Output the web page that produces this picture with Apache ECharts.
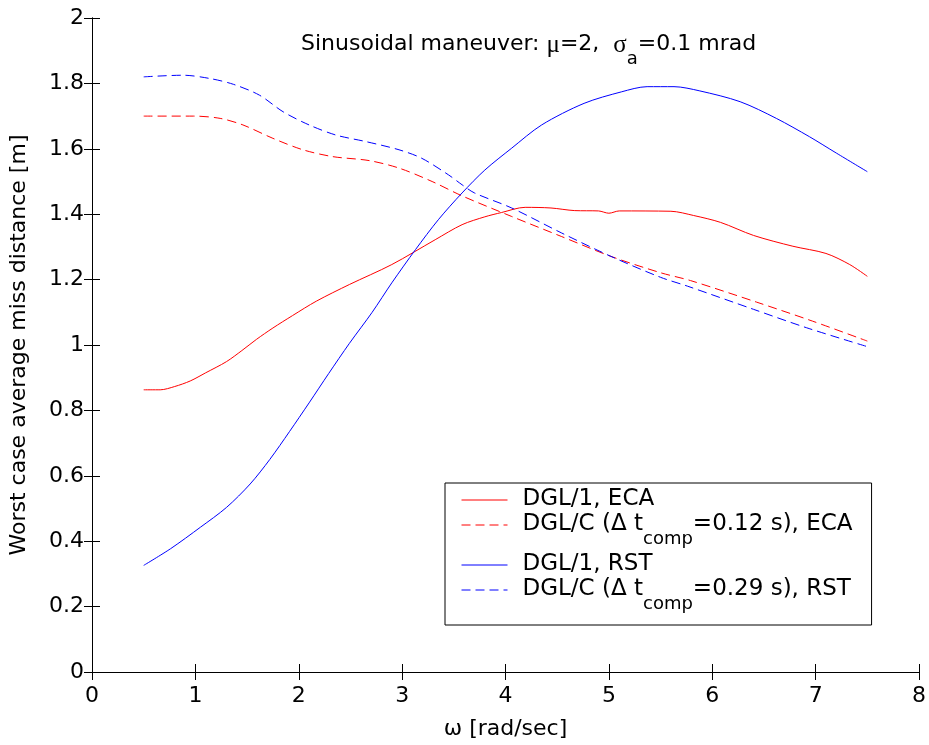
<!DOCTYPE html>
<html>
<head>
<meta charset="utf-8">
<script src="https://cdn.jsdelivr.net/npm/echarts@6/dist/echarts.min.js"></script>
<style>
html,body{margin:0;padding:0;background:#fff;}
#chart{width:929px;height:745px;}
</style>
</head>
<body>
<div id="chart"></div>
<script>
// ---- data ----
const xTicks = [0, 1, 2, 3, 4, 5, 6, 7, 8];
const yTicks = [0, 0.2, 0.4, 0.6, 0.8, 1, 1.2, 1.4, 1.6, 1.8, 2];

const ecaDgl1X = [0.5, 0.66, 0.8, 0.95, 1.1, 1.3, 1.45, 1.59, 1.75, 1.94, 2.17, 2.49, 2.9, 3.32, 3.58, 3.8, 3.96, 4.19, 4.44, 4.67, 4.9, 5.0, 5.1, 5.6, 5.82, 6.08, 6.4, 6.78, 7.1, 7.33, 7.5];
const ecaDgl1Y = [0.863, 0.863, 0.873, 0.89, 0.915, 0.949, 0.983, 1.017, 1.052, 1.09, 1.134, 1.185, 1.246, 1.322, 1.368, 1.392, 1.405, 1.421, 1.419, 1.411, 1.41, 1.403, 1.41, 1.409, 1.396, 1.375, 1.335, 1.302, 1.28, 1.246, 1.21];

const ecaDglcX = [0.5, 0.98, 1.24, 1.46, 1.75, 2.04, 2.33, 2.68, 2.97, 3.29, 3.58, 4.06, 4.54, 5.02, 5.5, 5.79, 6.43, 6.97, 7.5];
const ecaDglcY = [1.70, 1.70, 1.693, 1.673, 1.632, 1.597, 1.576, 1.564, 1.541, 1.50, 1.456, 1.393, 1.332, 1.271, 1.221, 1.197, 1.131, 1.073, 1.012];

const rstDgl1X = [0.5, 0.76, 1.05, 1.3, 1.53, 1.72, 1.91, 2.1, 2.29, 2.49, 2.71, 2.9, 3.13, 3.35, 3.58, 3.8, 4.06, 4.35, 4.76, 5.12, 5.37, 5.63, 5.88, 6.27, 6.62, 6.94, 7.2, 7.5];
const rstDgl1Y = [0.326, 0.377, 0.443, 0.503, 0.575, 0.650, 0.735, 0.823, 0.913, 1.005, 1.100, 1.19, 1.292, 1.383, 1.465, 1.535, 1.602, 1.673, 1.739, 1.774, 1.79, 1.79, 1.777, 1.744, 1.693, 1.637, 1.587, 1.53];

const rstDglcX = [0.5, 0.88, 1.14, 1.37, 1.62, 1.85, 2.1, 2.36, 2.65, 2.97, 3.19, 3.45, 3.58, 3.7, 4.06, 4.54, 5.02, 5.5, 5.76, 6.4, 6.91, 7.5];
const rstDglcY = [1.82, 1.825, 1.815, 1.797, 1.764, 1.713, 1.673, 1.642, 1.622, 1.597, 1.571, 1.52, 1.49, 1.465, 1.419, 1.343, 1.271, 1.207, 1.18, 1.109, 1.053, 0.995];

const seriesNames = [
  'DGL/1, ECA',
  'DGL/C (Δ t_comp=0.12 s), ECA',
  'DGL/1, RST',
  'DGL/C (Δ t_comp=0.29 s), RST'
];
const titleText = 'Sinusoidal maneuver: ';
const xName = 'ω [rad/sec]';
const yName = 'Worst case average miss distance [m]';

// ---- build ----
function pairs(xs, ys) { return xs.map((x, i) => [x, ys[i]]); }
const FONT = 'DejaVu Sans';
const DASH = [9, 5];

function mkSeries(name, xs, ys, color, dashed) {
  return {
    name: name,
    type: 'line',
    data: pairs(xs, ys),
    showSymbol: false,
    symbol: 'none',
    smooth: 0.3,
    lineStyle: { color: color, width: 1, type: dashed ? DASH : 'solid' },
    itemStyle: { color: color },
    emphasis: { disabled: true },
    silent: true
  };
}

const axisCommon = {
  type: 'value',
  axisLine: { show: true, lineStyle: { color: '#000', width: 1 } },
  axisTick: { show: true, inside: true, length: 8, lineStyle: { color: '#000', width: 1 } },
  splitLine: { show: false }
};

const chart = echarts.init(document.getElementById('chart'), null, { renderer: 'canvas' });
chart.setOption({
  animation: false,
  backgroundColor: '#fff',
  title: {
    text: '{t|' + titleText + '}{g|μ}{t|=2,  }{g|σ}{s|a}{t|=0.1 mrad}',
    left: 301,
    top: 33,
    padding: 0,
    textStyle: {
      fontFamily: FONT,
      fontWeight: 'normal',
      color: '#000',
      rich: {
        t: { fontFamily: FONT, fontSize: 22, lineHeight: 26, verticalAlign: 'top', color: '#000' },
        g: { fontFamily: 'Liberation Serif', fontSize: 25, lineHeight: 26, verticalAlign: 'top', color: '#000' },
        s: { fontFamily: FONT, fontSize: 18, lineHeight: 18, padding: [17, 0, 0, 0], verticalAlign: 'top', color: '#000' }
      }
    }
  },
  grid: { left: 88, right: 9, top: 18, bottom: 71, containLabel: false },
  legend: {
    orient: 'vertical',
    left: 445,
    top: 483,
    padding: [5, 19, 9, 16],
    itemGap: 2,
    itemWidth: 46,
    itemHeight: 13,
    backgroundColor: '#fff',
    borderColor: '#000',
    borderWidth: 1,
    borderRadius: 0,
    selectedMode: false,
    itemStyle: { opacity: 0 },
    lineStyle: { width: 1 },
    data: seriesNames,
    formatter: function (name) {
      const parts = name.split('_comp');
      if (parts.length === 2) {
        return '{sp| }{m|' + parts[0] + '}{s|comp}{m|' + parts[1] + '}';
      }
      return '{sp| }{m|' + name + '}';
    },
    textStyle: {
      fontFamily: FONT,
      fontSize: 23,
      color: '#000',
      rich: {
        sp: { width: 10, fontSize: 23, lineHeight: 24, verticalAlign: 'top' },
        m: { fontFamily: FONT, fontSize: 23, lineHeight: 24, verticalAlign: 'top', color: '#000' },
        s: { fontFamily: FONT, fontSize: 18, lineHeight: 18, padding: [17, 0, 3, 0], verticalAlign: 'top', color: '#000' }
      }
    }
  },
  xAxis: [
    Object.assign({}, axisCommon, {
      position: 'bottom',
      min: xTicks[0], max: xTicks[xTicks.length - 1], interval: 1,
      name: xName,
      nameLocation: 'middle',
      nameGap: 46,
      nameTextStyle: { fontFamily: FONT, fontSize: 22, color: '#000' },
      axisLabel: { show: true, fontFamily: FONT, fontSize: 22, color: '#000', margin: 13 }
    }),
    Object.assign({}, axisCommon, {
      position: 'top',
      min: xTicks[0], max: xTicks[xTicks.length - 1], interval: 1,
      axisLabel: { show: false }
    })
  ],
  yAxis: [
    Object.assign({}, axisCommon, {
      position: 'left',
      min: yTicks[0], max: yTicks[yTicks.length - 1], interval: 0.2,
      name: yName,
      nameLocation: 'middle',
      nameGap: 62,
      nameTextStyle: { fontFamily: FONT, fontSize: 22, color: '#000' },
      axisLabel: { show: true, fontFamily: FONT, fontSize: 22, color: '#000', margin: 8 }
    }),
    Object.assign({}, axisCommon, {
      position: 'right',
      min: yTicks[0], max: yTicks[yTicks.length - 1], interval: 0.2,
      axisLabel: { show: false }
    })
  ],
  series: [
    mkSeries(seriesNames[0], ecaDgl1X, ecaDgl1Y, '#ff0000', false),
    mkSeries(seriesNames[1], ecaDglcX, ecaDglcY, '#ff0000', true),
    mkSeries(seriesNames[2], rstDgl1X, rstDgl1Y, '#0000ff', false),
    mkSeries(seriesNames[3], rstDglcX, rstDglcY, '#0000ff', true)
  ]
});
</script>
</body>
</html>
